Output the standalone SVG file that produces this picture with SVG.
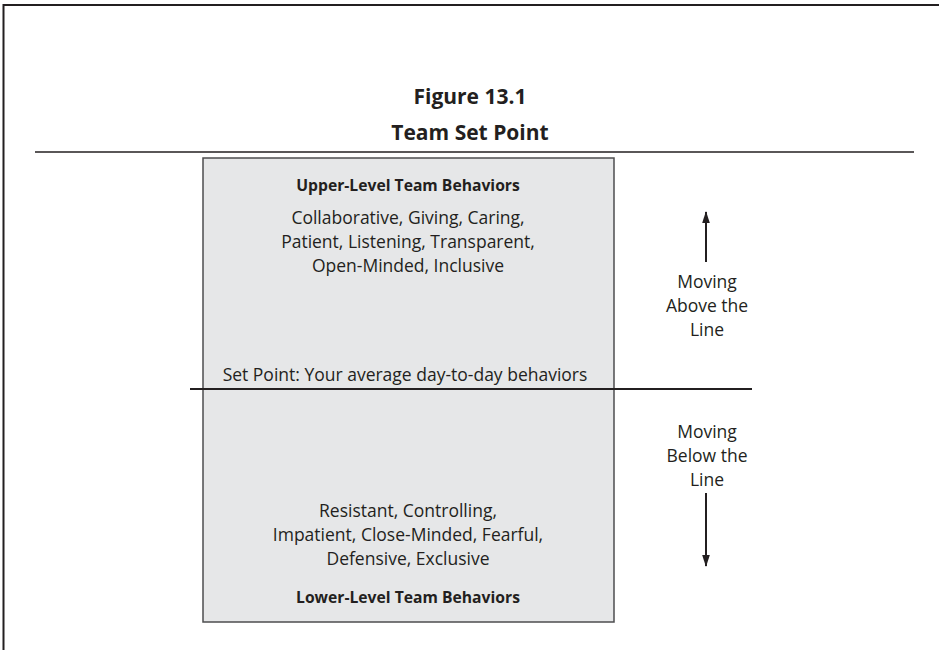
<svg xmlns="http://www.w3.org/2000/svg" width="939" height="650" viewBox="0 0 939 650">
<defs>
<style>
.t{font-family:"Open Sans","Liberation Sans",sans-serif;fill:#231f20;text-anchor:middle}
.title{font-size:21px;font-weight:bold}
.hd{font-size:15.7px;font-weight:bold}
.bd{font-size:17.5px}
.ln{stroke:#231f20;fill:none}
</style>
<marker id="ah" viewBox="0 0 12 10" refX="11" refY="5" markerWidth="12" markerHeight="10" markerUnits="userSpaceOnUse" orient="auto">
<path d="M0,1.2 L12,5 L0,8.8 Z" fill="#231f20"/>
</marker>
</defs>
<rect width="939" height="650" fill="#fff"/>
<path d="M3.5,650 V5 H939" class="ln" stroke-width="2"/>
<g id="title">
<text class="t title" x="470" y="104">Figure 13.1</text>
<text class="t title" x="470" y="140">Team Set Point</text>
<line x1="35" y1="152" x2="914" y2="152" class="ln" stroke-width="1.5"/>
</g>
<g id="box">
<rect x="203" y="158" width="411" height="464" fill="#e6e7e8" stroke="#4d4d4f" stroke-width="1.5"/>
</g>
<g id="upper">
<text class="t hd" x="408" y="191">Upper-Level Team Behaviors</text>
<text class="t bd" x="408" y="224">Collaborative, Giving, Caring,</text>
<text class="t bd" x="408" y="248">Patient, Listening, Transparent,</text>
<text class="t bd" x="408" y="272">Open-Minded, Inclusive</text>
</g>
<g id="setpoint">
<text class="t bd" x="405" y="381">Set Point: Your average day-to-day behaviors</text>
<line x1="190" y1="389" x2="752" y2="389" class="ln" stroke-width="2"/>
</g>
<g id="lower">
<text class="t bd" x="408" y="517">Resistant, Controlling,</text>
<text class="t bd" x="408" y="541">Impatient, Close-Minded, Fearful,</text>
<text class="t bd" x="408" y="565">Defensive, Exclusive</text>
<text class="t hd" x="408" y="603">Lower-Level Team Behaviors</text>
</g>
<g id="above">
<text class="t bd" x="707" y="288">Moving</text>
<text class="t bd" x="707" y="312">Above the</text>
<text class="t bd" x="707" y="336">Line</text>
</g>
<g id="below">
<text class="t bd" x="707" y="438">Moving</text>
<text class="t bd" x="707" y="462">Below the</text>
<text class="t bd" x="707" y="486">Line</text>
</g>
<g id="connectors">
<line x1="706" y1="262" x2="706" y2="212" class="ln" stroke-width="2" marker-end="url(#ah)"/>
<line x1="706" y1="493" x2="706" y2="566" class="ln" stroke-width="2" marker-end="url(#ah)"/>
</g>
</svg>
